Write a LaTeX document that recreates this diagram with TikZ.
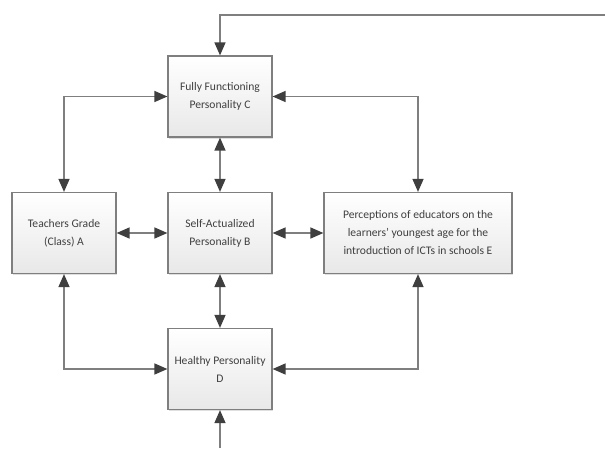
\documentclass[tikz,border=0pt]{standalone}
\usepackage{fontspec}
\setmainfont{Carlito}
\usetikzlibrary{arrows.meta,shadows}
\definecolor{linegray}{HTML}{7F7F7F}
\definecolor{tipgray}{HTML}{3F3F3F}
\definecolor{textgray}{HTML}{404040}
\tikzset{
  factor/.style={draw=linegray, line width=1.2pt, top color=white, bottom color=black!9,
    minimum width=104pt, minimum height=81pt, align=center, text=textgray,
    font=\fontsize{11.6}{18}\selectfont,
    drop shadow={shadow xshift=1pt, shadow yshift=-1.5pt, opacity=0.25}},
  link/.style={draw=linegray, line width=1.4pt,
    arrows={Triangle[length=13pt,width=11pt,color=tipgray]-Triangle[length=13pt,width=11pt,color=tipgray]}},
  oneway/.style={draw=linegray, line width=1.4pt,
    -{Triangle[length=13pt,width=11pt,color=tipgray]}}
}
\begin{document}
\begin{tikzpicture}[x=1pt,y=-1pt]
\useasboundingbox (0,0) rectangle (605,448);
\node[factor] (C) at (220,96.5) {Fully Functioning\\Personality C};
\node[factor] (A) at (64,233) {Teachers Grade\\(Class) A};
\node[factor] (B) at (220,233) {Self-Actualized\\Personality B};
\node[factor, minimum width=188pt] (E) at (418,233) {Perceptions of educators on the\\learners’ youngest age for the\\introduction of ICTs in schools E};
\node[factor] (D) at (220,369) {Healthy Personality\\D};
\coordinate (in top) at (605,15);
\coordinate (in bottom) at (220,448);
% straight links
\foreach \from/\to in {A.east/B.west, B.east/E.west, B.north/C.south, B.south/D.north}
  \draw[link] (\from) -- (\to);
% elbow links
\foreach \from/\to in {A.north/C.west, E.north/C.east, A.south/D.west, E.south/D.east}
  \draw[link] (\from) |- (\to);
\draw[oneway] (in top) -| (C.north);
\draw[oneway] (in bottom) -- (D.south);
\end{tikzpicture}
\end{document}
